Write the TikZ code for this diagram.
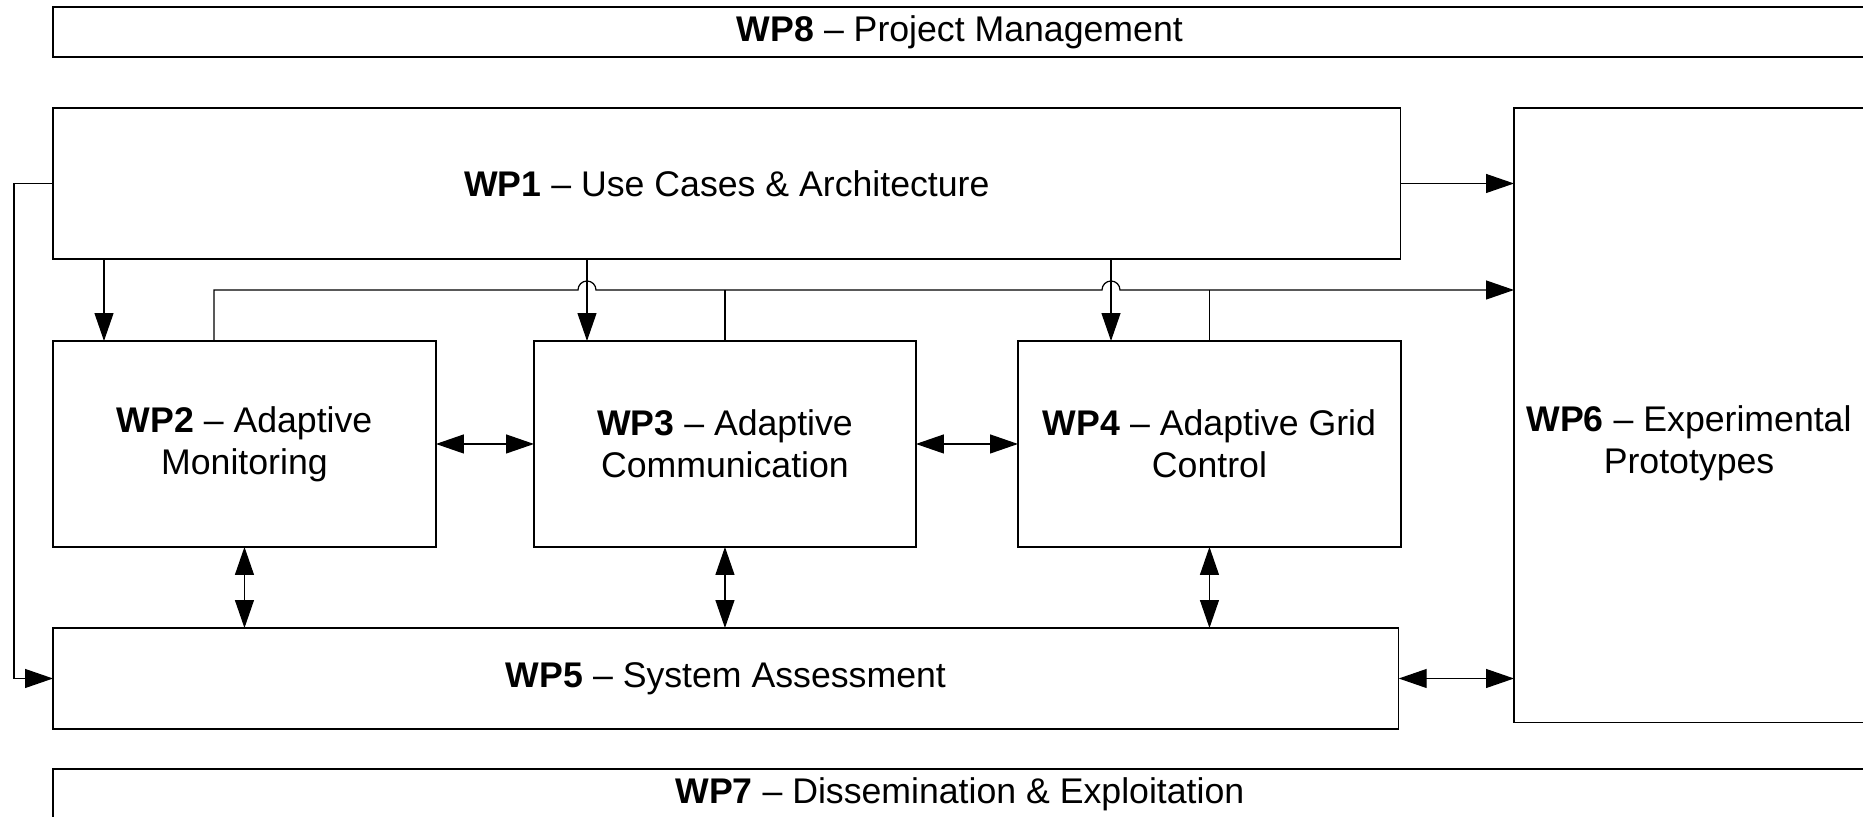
\documentclass[tikz,border=0pt]{standalone}
\usepackage{fontspec}
\setmainfont{Liberation Sans}
\usetikzlibrary{arrows.meta,calc}

\begin{document}
\begin{tikzpicture}[
  x=0.02cm, y=-0.02cm,
  box/.style={draw, line width=0.7pt, inner sep=0pt, outer sep=0pt, anchor=north west, align=center, font=\fontsize{20.3}{24}\selectfont},
  wire/.style={line width=0.7pt},
  arrow/.style={wire, -{Triangle[length=5.6mm, width=3.8mm]}},
  biarrow/.style={wire, {Triangle[length=5.6mm, width=3.8mm]}-{Triangle[length=5.6mm, width=3.8mm]}}
]
\useasboundingbox (0,0) rectangle (1863,817);
\clip (0,0) rectangle (1863,817);

\node[box, minimum width=36.28cm, minimum height=1cm] (wp8) at (53,7) {\textbf{WP8} -- Project Management};
\node[box, minimum width=26.96cm, minimum height=3.02cm] (wp1) at (53,108) {\textbf{WP1} -- Use Cases \& Architecture};
\node[box, minimum width=7cm, minimum height=12.3cm] (wp6) at (1514,108) {};
\node[align=center, font=\fontsize{20.3}{24}\selectfont] (wp6text) at (1689,443) {\textbf{WP6} -- Experimental\\Prototypes};

\node[box, minimum width=7.66cm, minimum height=4.12cm] (wp2) at (53,341) {\textbf{WP2} -- Adaptive\\Monitoring};
\node[box, minimum width=7.64cm, minimum height=4.12cm] (wp3) at (534,341) {\textbf{WP3} -- Adaptive\\Communication};
\node[box, minimum width=7.66cm, minimum height=4.12cm] (wp4) at (1018,341) {\textbf{WP4} -- Adaptive Grid\\Control};

\node[box, minimum width=26.92cm, minimum height=2.02cm] (wp5) at (53,628) {\textbf{WP5} -- System Assessment};
\node[box, minimum width=36.28cm, minimum height=1cm] (wp7) at (53,769) {\textbf{WP7} -- Dissemination \& Exploitation};

% columns and the bus line
\coordinate (loop) at (14,0);
\coordinate (drop2) at (104,0);
\coordinate (tap2) at (214,0);
\coordinate (drop3) at (587,0);
\coordinate (drop4) at (1111,0);
\coordinate (bus) at (0,290);

\draw[arrow] (wp1.east) -- (wp1.east -| wp6.west);
\draw[arrow] (wp1.west) -- (loop |- wp1.west) |- (wp5.west);
\draw[arrow] (drop2 |- wp1.south) -- (drop2 |- wp2.north);
\draw[arrow] (drop3 |- wp1.south) -- (drop3 |- wp3.north);
\draw[arrow] (drop4 |- wp1.south) -- (drop4 |- wp4.north);

\draw[arrow] (tap2 |- wp2.north) -- (tap2 |- bus)
  -- ($(drop3 |- bus)+(-9,0)$) arc[start angle=180, end angle=360, radius=9]
  -- ($(drop4 |- bus)+(-9,0)$) arc[start angle=180, end angle=360, radius=9]
  -- (bus -| wp6.west);
\draw[wire] (wp3.north) -- (wp3.north |- bus);
\draw[wire] (wp4.north) -- (wp4.north |- bus);

\draw[biarrow] (wp2.east) -- (wp3.west);
\draw[biarrow] (wp3.east) -- (wp4.west);
\draw[biarrow] (wp2.south) -- (wp2.south |- wp5.north);
\draw[biarrow] (wp3.south) -- (wp3.south |- wp5.north);
\draw[biarrow] (wp4.south) -- (wp4.south |- wp5.north);
\draw[biarrow] (wp5.east) -- (wp5.east -| wp6.west);
\end{tikzpicture}
\end{document}
